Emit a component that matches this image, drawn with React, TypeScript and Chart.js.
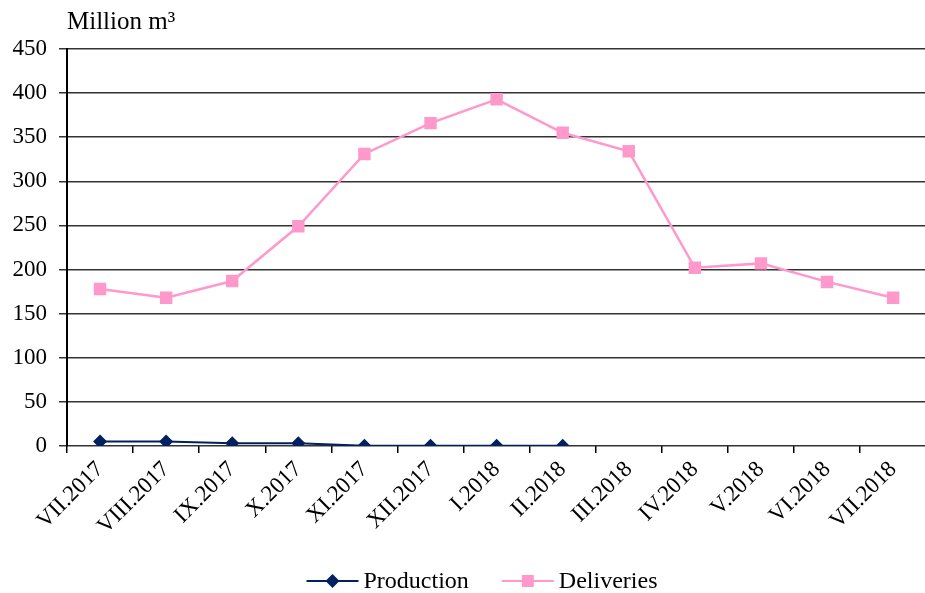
import React, { useEffect, useRef } from 'react';
import { Chart, registerables } from 'chart.js';

Chart.register(...registerables);

const categories: string[] = [
  'VII.2017', 'VIII.2017', 'IX.2017', 'X.2017', 'XI.2017', 'XII.2017',
  'I.2018', 'II.2018', 'III.2018', 'IV.2018', 'V.2018', 'VI.2018', 'VII.2018',
];
const production: (number | null)[] = [5, 5, 3, 3, 0.3, 0.2, 0.2, 0.2, null, null, null, null, null];
const deliveries: number[] = [178, 168, 187, 249, 331, 366, 393, 355, 334, 202, 207, 186, 168];
const yTicks = { min: 0, max: 450, step: 50 };
const unitTitle = 'Million m\u00B3';

const FONT = '"Liberation Serif", "Times New Roman", serif';
const PROD_COLOR = '#002060';
const DELIV_COLOR = '#FF99CC';

const titlePlugin = {
  id: 'unitTitle',
  afterDraw(chart: any) {
    const ctx = chart.ctx;
    ctx.save();
    ctx.font = `25px ${FONT}`;
    ctx.fillStyle = '#000';
    ctx.textBaseline = 'alphabetic';
    ctx.textAlign = 'left';
    ctx.fillText(unitTitle, chart.chartArea.left, 29);
    ctx.restore();
  },
};

const legendPlugin = {
  id: 'lineLegend',
  afterDraw(chart: any) {
    const ctx = chart.ctx;
    const items = chart.data.datasets.map((ds: any) => ds);
    ctx.save();
    ctx.font = `24px ${FONT}`;
    const lineLen = 52;
    const gap = 5;
    const itemGap = 33;
    const widths = items.map((ds: any) => lineLen + gap + ctx.measureText(ds.label).width);
    const total = widths.reduce((a: number, b: number) => a + b, 0) + itemGap * (items.length - 1);
    let x = 482 - total / 2;
    const y = 581;
    items.forEach((ds: any, i: number) => {
      ctx.strokeStyle = ds.borderColor;
      ctx.lineWidth = 2;
      ctx.beginPath();
      ctx.moveTo(x, y);
      ctx.lineTo(x + lineLen, y);
      ctx.stroke();
      ctx.fillStyle = ds.pointBackgroundColor;
      ctx.beginPath();
      const cx = x + lineLen / 2;
      if (ds.pointStyle === 'rectRot') {
        const r = 7;
        ctx.moveTo(cx, y - r);
        ctx.lineTo(cx + r, y);
        ctx.lineTo(cx, y + r);
        ctx.lineTo(cx - r, y);
        ctx.closePath();
      } else {
        const s = 6;
        ctx.rect(cx - s, y - s, 2 * s, 2 * s);
      }
      ctx.fill();
      ctx.fillStyle = '#000';
      ctx.textBaseline = 'middle';
      ctx.textAlign = 'left';
      ctx.fillText(ds.label, x + lineLen + gap, y + 1);
      x += widths[i] + itemGap;
    });
    ctx.restore();
  },
};

export default function App() {
  const ref = useRef<HTMLCanvasElement | null>(null);

  useEffect(() => {
    if (!ref.current) return;
    const chart = new Chart(ref.current, {
      type: 'line',
      data: {
        labels: categories,
        datasets: [
          {
            label: 'Production',
            data: production,
            borderColor: PROD_COLOR,
            backgroundColor: PROD_COLOR,
            pointBackgroundColor: PROD_COLOR,
            pointBorderColor: PROD_COLOR,
            pointStyle: 'rectRot',
            pointRadius: 7,
            pointBorderWidth: 0,
            borderWidth: 2,
            tension: 0,
            spanGaps: false,
          },
          {
            label: 'Deliveries',
            data: deliveries,
            borderColor: DELIV_COLOR,
            backgroundColor: DELIV_COLOR,
            pointBackgroundColor: DELIV_COLOR,
            pointBorderColor: DELIV_COLOR,
            pointStyle: 'rect',
            pointRadius: 8.8,
            pointBorderWidth: 0,
            borderWidth: 2.5,
            tension: 0,
          },
        ],
      },
      options: {
        animation: false,
        responsive: false,
        devicePixelRatio: 1,
        layout: { padding: { top: 49, left: 0, right: 2, bottom: 0 } },
        plugins: {
          legend: { display: false },
          tooltip: { enabled: false },
          title: { display: false },
        },
        scales: {
          x: {
            type: 'category',
            offset: true,
            grid: {
              offset: true,
              drawOnChartArea: false,
              drawTicks: true,
              tickLength: 7,
              color: '#000',
              lineWidth: 1.5,
            },
            border: { display: false },
            ticks: {
              autoSkip: false,
              minRotation: 45,
              maxRotation: 45,
              padding: 3,
              color: '#000',
              font: { family: FONT, size: 23 },
            },
            afterFit(scale: any) {
              scale.height = 147;
            },
          },
          y: {
            min: yTicks.min,
            max: yTicks.max,
            ticks: {
              stepSize: yTicks.step,
              padding: 12,
              color: '#000',
              font: { family: FONT, size: 23 },
            },
            grid: {
              color: '#333',
              lineWidth: 1.5,
              drawTicks: true,
              tickLength: 8,
            },
            border: { display: true, color: '#000', width: 2 },
            afterFit(scale: any) {
              scale.width = 67;
            },
          },
        },
      },
      plugins: [titlePlugin, legendPlugin],
    });
    return () => chart.destroy();
  }, []);

  return (
    <div style={{ position: 'fixed', left: 0, top: 0, width: 925, height: 593, overflow: 'hidden', background: '#fff' }}>
      <canvas ref={ref} width={935} height={593} style={{ display: 'block', width: 935, height: 593 }} />
    </div>
  );
}
